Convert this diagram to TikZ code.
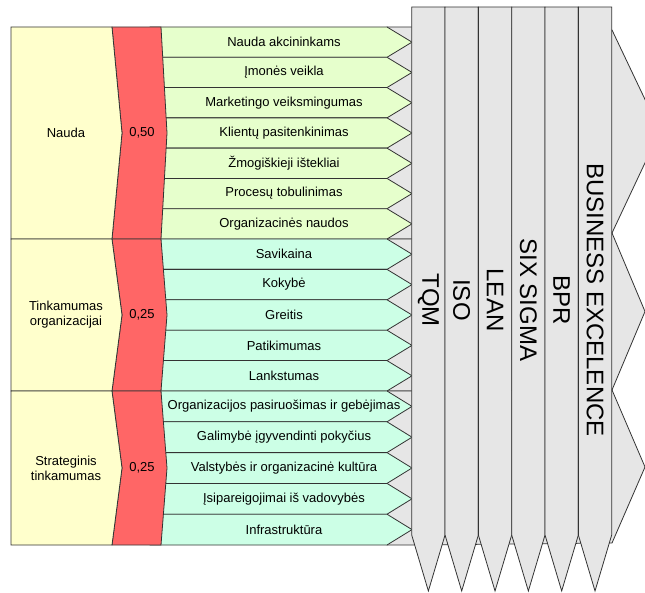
\documentclass[tikz,border=0pt]{standalone}
\usepackage{fontspec}
\setmainfont{Liberation Sans}
\definecolor{cyel}{HTML}{FFFFCC}
\definecolor{cred}{HTML}{FF6666}
\definecolor{cgrA}{HTML}{E6FFCC}
\definecolor{cgrB}{HTML}{CCFFE6}
\definecolor{cgray}{HTML}{E6E6E6}
\begin{document}
\begin{tikzpicture}[x=1pt,y=-1pt,
  shp/.style={draw=black!80, line width=0.8pt, line join=miter},
  lbl/.style={font=\fontsize{13}{15}\selectfont, align=center, inner sep=0pt},
  coltxt/.style={font=\fontsize{24}{28}\selectfont, rotate=-90, inner sep=0pt}]
\useasboundingbox (0,0) rectangle (645,593);
\clip (0,0) rectangle (645,593);
% gray group chevrons (behind)
\draw[shp, fill=cgray] (387,27) -- (412,27) -- (612,30) -- (660,131) -- (612,233) -- (412,239) -- (387,239) -- cycle;
\draw[shp, fill=cgray] (387,239) -- (412,239) -- (612,233) -- (645,311.5) -- (612,390) -- (412,391) -- (387,391) -- cycle;
\draw[shp, fill=cgray] (387,391) -- (412,391) -- (612,390) -- (645,467) -- (612,543) -- (412,545) -- (387,545) -- cycle;
% green rows group 1
\foreach \lab [count=\i from 0] in {Nauda akcininkams, Įmonės veikla, Marketingo veiksmingumas, Klientų pasitenkinimas, Žmogiškieji ištekliai, Procesų tobulinimas, Organizacinės naudos} {
  \pgfmathsetmacro\tt{27+\i*30.2857}
  \pgfmathsetmacro\bb{\tt+30.2857}
  \pgfmathsetmacro\mm{\tt+15.1429}
  \draw[shp, fill=cgrA] (150,\tt) -- (387,\tt) -- (412,\mm) -- (387,\bb) -- (150,\bb) -- cycle;
  \node[lbl] (ga\i) at (284,\mm) {\lab};
}
% green rows group 2
\foreach \lab [count=\i from 0] in {Savikaina, Kokybė, Greitis, Patikimumas, Lankstumas} {
  \pgfmathsetmacro\tt{239+\i*30.4}
  \pgfmathsetmacro\bb{\tt+30.4}
  \pgfmathsetmacro\mm{\tt+15.2}
  \draw[shp, fill=cgrB] (150,\tt) -- (387,\tt) -- (412,\mm) -- (387,\bb) -- (150,\bb) -- cycle;
  \node[lbl] (gb\i) at (284,\mm) {\lab};
}
% green rows group 3
\foreach \lab [count=\i from 0] in {Organizacijos pasiruošimas ir gebėjimas, Galimybė įgyvendinti pokyčius, Valstybės ir organizacinė kultūra, Įsipareigojimai iš vadovybės, Infrastruktūra} {
  \pgfmathsetmacro\tt{391+\i*30.8}
  \pgfmathsetmacro\bb{\tt+30.8}
  \pgfmathsetmacro\mm{\tt+15.4}
  \draw[shp, fill=cgrB] (150,\tt) -- (387,\tt) -- (412,\mm) -- (387,\bb) -- (150,\bb) -- cycle;
  \node[lbl] (gc\i) at (284,\mm) {\lab};
}
% red weight chevrons
\draw[shp, fill=cred] (112,27) -- (161,27) -- (167,133) -- (161,239) -- (112,239) -- (122,133) -- cycle;
\draw[shp, fill=cred] (112,239) -- (161,239) -- (167,315) -- (161,391) -- (112,391) -- (122,315) -- cycle;
\draw[shp, fill=cred] (112,391) -- (161,391) -- (167,468) -- (161,545) -- (112,545) -- (122,468) -- cycle;
\node[lbl] (wa) at (142,133) {0,50};
\node[lbl] (wb) at (142,315) {0,25};
\node[lbl] (wc) at (142,468) {0,25};
% yellow criteria
\draw[shp, fill=cyel] (11,27) -- (112,27) -- (122,133) -- (112,239) -- (11,239) -- cycle;
\draw[shp, fill=cyel] (11,239) -- (112,239) -- (122,315) -- (112,391) -- (11,391) -- cycle;
\draw[shp, fill=cyel] (11,391) -- (112,391) -- (122,468) -- (112,545) -- (11,545) -- cycle;
\node[lbl] (ya) at (66,133) {Nauda};
\node[lbl] (yb) at (66,315) {Tinkamumas\\organizacijai};
\node[lbl] (yc) at (66,468) {Strateginis\\tinkamumas};
% method columns
\foreach \name [count=\i from 0] in {TQM, ISO, LEAN, SIX SIGMA, BPR, BUSINESS EXCELENCE} {
  \pgfmathsetmacro\xa{411.7+\i*33.33}
  \pgfmathsetmacro\xb{\xa+33.33}
  \pgfmathsetmacro\xc{\xa+16.67}
  \draw[shp, fill=cgray] (\xa,7) -- (\xb,7) -- (\xb,535) -- (\xc,591) -- (\xa,535) -- cycle;
  \node[coltxt] (m\i) at (\xc,300) {\name};
}
\end{tikzpicture}
\end{document}
